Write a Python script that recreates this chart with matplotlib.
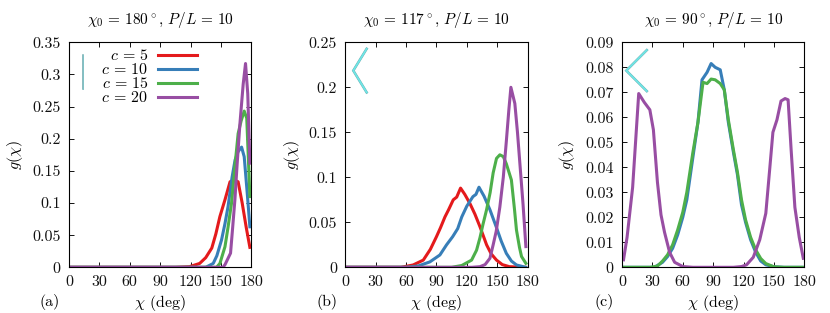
import numpy as np
import matplotlib
matplotlib.use("Agg")
import matplotlib.pyplot as plt
import matplotlib.patheffects as pe

plt.rcParams["font.family"] = ["cmr10", "DejaVu Serif"]
plt.rcParams["mathtext.fontset"] = "cm"
plt.rcParams["axes.formatter.use_mathtext"] = True
plt.rcParams["font.size"] = 11.5

COLORS = {5: "#e41a1c", 10: "#377eb8", 15: "#4daf4a", 20: "#984ea3"}
XTICKS = [0, 30, 60, 90, 120, 150, 180]

# panel (a), chi0 = 180
a_x5 = [2, 105, 119, 129, 135, 141, 145, 149, 154, 159, 163, 167, 171, 175, 178.6]
a_y5 = [0, 0, 0.001, 0.006, 0.015, 0.03, 0.052, 0.079, 0.105, 0.133, 0.136, 0.133, 0.1, 0.062, 0.031]
a_x10 = [2, 135, 142.4, 146, 150.6, 154, 157, 161, 164, 167, 170.4, 173, 176, 178.6]
a_y10 = [0, 0, 0.006, 0.018, 0.0425, 0.068, 0.094, 0.14, 0.167, 0.18, 0.187, 0.172, 0.115, 0.063]
a_x15 = [2, 145.7, 149, 154, 157, 160.5, 164, 167, 170, 173, 175.5, 178.6]
a_y15 = [0, 0, 0.006, 0.032, 0.062, 0.1, 0.16, 0.208, 0.228, 0.243, 0.232, 0.11]
a_x20 = [2, 152, 154, 159.5, 161.5, 163.8, 166, 168.8, 172, 174.3, 176.5, 178.6]
a_y20 = [0, 0, 0.004, 0.022, 0.06, 0.105, 0.16, 0.224, 0.285, 0.317, 0.27, 0.162]

# panel (b), chi0 = 117
b_x5 = [2, 55, 67, 77, 84, 90, 94, 98.4, 102, 106.6, 110, 113.8, 118, 123, 128, 133, 139.5, 144, 149.3, 155, 162, 178]
b_y5 = [0, 0, 0.0026, 0.008, 0.02, 0.034, 0.044, 0.056, 0.064, 0.075, 0.078, 0.088, 0.081, 0.071, 0.059, 0.045, 0.025, 0.015, 0.008, 0.003, 0.0007, 0]
b_x10 = [2, 60, 72, 83.5, 93.4, 100, 106, 111, 115, 120, 126, 129, 132, 137, 142.8, 149, 154, 159, 164, 169, 178]
b_y10 = [0, 0, 0.0015, 0.006, 0.0137, 0.025, 0.034, 0.043, 0.056, 0.068, 0.0785, 0.081, 0.089, 0.079, 0.064, 0.045, 0.029, 0.0155, 0.007, 0.0026, 0]
b_x15 = [2, 105, 115, 124.7, 129.6, 133, 136, 139.5, 143, 146, 149.3, 152.6, 156, 159, 164, 167, 169, 172, 174, 178.3]
b_y15 = [0, 0, 0.002, 0.008, 0.019, 0.033, 0.048, 0.064, 0.083, 0.105, 0.121, 0.125, 0.123, 0.115, 0.097, 0.065, 0.0415, 0.022, 0.012, 0.0044]
b_x20 = [2, 125, 133, 138, 142.8, 146, 149, 152.6, 156, 159, 161.5, 163.5, 167.4, 170, 172.4, 175.5, 178.3]
b_y20 = [0, 0, 0.0007, 0.003, 0.01, 0.025, 0.04, 0.067, 0.1, 0.14, 0.175, 0.2, 0.182, 0.15, 0.115, 0.07, 0.023]

# panel (c), chi0 = 90
c_x10 = [2, 32, 40, 45, 50, 55, 60, 64, 70, 75, 79, 84, 88, 92, 97, 101, 105, 110, 114, 118, 122, 127, 132, 137, 142, 150, 160, 178]
c_y10 = [0, 0, 0.002, 0.0043, 0.0076, 0.013, 0.02, 0.027, 0.044, 0.058, 0.075, 0.078, 0.0815, 0.08, 0.079, 0.071, 0.058, 0.046, 0.037, 0.025, 0.018, 0.011, 0.006, 0.0025, 0.001, 0.0002, 0, 0]
c_x15 = [2, 28, 35, 40, 45, 50, 55, 60, 64, 70, 75, 80, 84, 88, 92, 97, 101, 105, 110, 114, 118, 122, 127, 132, 137, 142, 150, 160, 178]
c_y15 = [0, 0, 0.0005, 0.0025, 0.005, 0.009, 0.015, 0.022, 0.03, 0.046, 0.058, 0.074, 0.0735, 0.0753, 0.075, 0.0735, 0.071, 0.059, 0.047, 0.038, 0.027, 0.019, 0.012, 0.007, 0.0035, 0.0015, 0.0002, 0, 0]
c_x20 = [1.5, 5, 10.5, 16.5, 22, 27.5, 31, 35, 38.5, 42, 47, 52, 60, 70, 110, 118, 123, 129.6, 136, 142, 146, 149, 153, 157, 161, 164, 167, 170.7, 175, 179]
c_y20 = [0.003, 0.012, 0.032, 0.0695, 0.066, 0.063, 0.055, 0.034, 0.021, 0.014, 0.006, 0.002, 0.0003, 0, 0, 0.0003, 0.001, 0.004, 0.011, 0.0216, 0.04, 0.054, 0.059, 0.0665, 0.0675, 0.067, 0.047, 0.024, 0.012, 0.0036]

panels = [
    ("(a)", 180, 0.35, [0, 0.05, 0.1, 0.15, 0.2, 0.25, 0.3, 0.35],
     ["0", "0.05", "0.1", "0.15", "0.2", "0.25", "0.3", "0.35"],
     [(5, a_x5, a_y5), (10, a_x10, a_y10), (15, a_x15, a_y15), (20, a_x20, a_y20)]),
    ("(b)", 117, 0.25, [0, 0.05, 0.1, 0.15, 0.2, 0.25],
     ["0", "0.05", "0.1", "0.15", "0.2", "0.25"],
     [(5, b_x5, b_y5), (10, b_x10, b_y10), (15, b_x15, b_y15), (20, b_x20, b_y20)]),
    ("(c)", 90, 0.09, [0, 0.01, 0.02, 0.03, 0.04, 0.05, 0.06, 0.07, 0.08, 0.09],
     ["0", "0.01", "0.02", "0.03", "0.04", "0.05", "0.06", "0.07", "0.08", "0.09"],
     [(10, c_x10, c_y10), (15, c_x15, c_y15), (20, c_x20, c_y20)]),
]
LEFTS = [69, 345.3, 622]
YLABEL_X = [-54, -53, -55]
TAG_X = [-19, -18, -18]
W, H = 830, 313
AX_W, AX_TOP, AX_BOTTOM = 182.3, 42.3, 267.3
AX_H = AX_BOTTOM - AX_TOP
# bent rod sketch: vertex in axes pixels from top left, arm length in pixels
ROD = {180: (14.3, 29.5, 16.7, 0.6), 117: (8, 28.3, 25.6, 1.3), 90: (4.3, 28.3, 29, 1.3)}


def draw_rod(ax, chi0):
    vx, vy, arm, lw = ROD[chi0]
    half = np.radians(chi0 / 2)
    dx, dy = arm * np.cos(half), arm * np.sin(half)
    xs = np.array([vx + dx, vx, vx + dx]) / AX_W
    ys = 1 - np.array([vy - dy, vy, vy + dy]) / AX_H
    color = "#7fc4c8" if chi0 == 180 else "#6fe6e6"
    ax.plot(xs, ys, transform=ax.transAxes, color=color, lw=lw, solid_joinstyle="miter",
            path_effects=[pe.Stroke(linewidth=lw + 0.5, foreground="#6aa8ac"), pe.Normal()], zorder=5)


fig = plt.figure(figsize=(W / 100, H / 100), dpi=100)
for i, (tag, chi0, ymax, yticks, ylabels, series) in enumerate(panels):
    ax = fig.add_axes([LEFTS[i] / W, 1 - AX_BOTTOM / H, AX_W / W, AX_H / H])
    for c, xs, ys in series:
        ax.plot(xs, ys, color=COLORS[c], lw=2.2, solid_joinstyle="round", label=rf"$c\,=\,{c}$")
    draw_rod(ax, chi0)
    ax.set_xlim(0, 180)
    ax.set_ylim(0, ymax)
    ax.set_xticks(XTICKS)
    ax.set_xticklabels([str(t) for t in XTICKS])
    ax.set_yticks(yticks)
    ax.set_yticklabels(ylabels)
    ax.tick_params(direction="in", top=True, right=True, length=3.5, width=0.7, colors="#111111")
    ax.tick_params(axis="x", pad=6)
    ax.tick_params(axis="y", pad=6)
    for s in ax.spines.values():
        s.set_linewidth(0.8)
    ax.set_xlabel(r"$\chi$ (deg)")
    ax.xaxis.label.set_verticalalignment("center")
    ax.xaxis.set_label_coords(0.5, -36 / AX_H)
    ax.set_ylabel(r"$g(\chi)$")
    ax.yaxis.label.set_verticalalignment("center")
    ax.yaxis.set_label_coords(YLABEL_X[i] / AX_W, 0.5)
    ax.text(0.5, 1 + 22 / AX_H, rf"$\chi_0\,=\,{chi0}^\circ$, $P/L\,=\,10$", transform=ax.transAxes,
            ha="center", va="center", fontsize=11)
    ax.text(TAG_X[i] / AX_W, -34.5 / AX_H, tag, transform=ax.transAxes, ha="center", va="center")
    if tag == "(a)":
        ax.legend(loc="upper right", bbox_to_anchor=(128 / AX_W, 1 - 6 / AX_H), frameon=False, markerfirst=False,
                  handlelength=2.45, labelspacing=-0.06, handletextpad=0.6, borderpad=0, borderaxespad=0)

fig.savefig("out.png", dpi=100)
